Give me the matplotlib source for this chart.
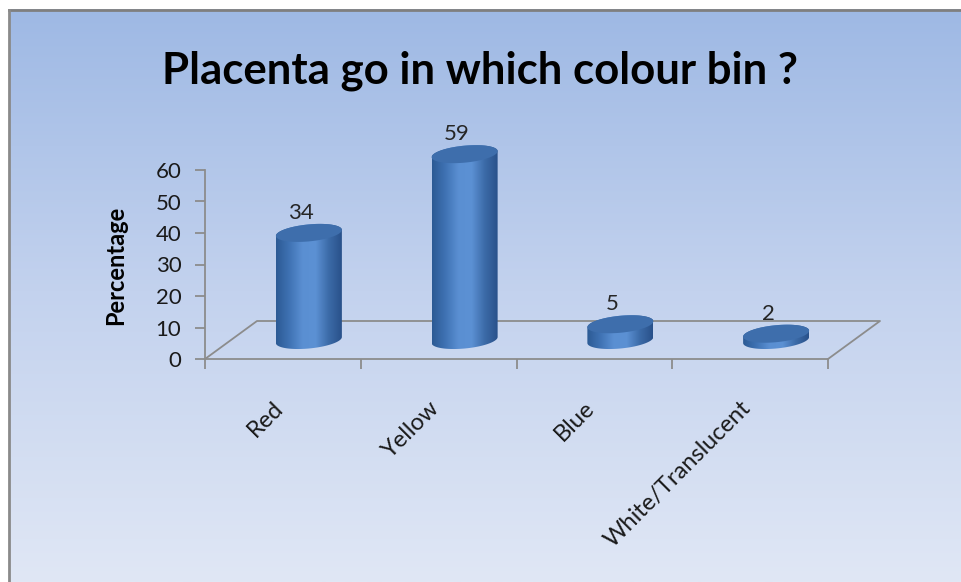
import numpy as np
import matplotlib
matplotlib.use('Agg')
import matplotlib.pyplot as plt
from matplotlib.path import Path
from matplotlib.patches import PathPatch, Rectangle
from matplotlib.colors import LinearSegmentedColormap

# ---- data ----
categories = ['Red', 'Yellow', 'Blue', 'White/Translucent']
values = [34, 59, 5, 2]
y_ticks = [0, 10, 20, 30, 40, 50, 60]
title_text = 'Placenta go in which colour bin ?'
ylabel_text = 'Percentage'

plt.rcParams['font.family'] = ['Lato', 'DejaVu Sans']

W, H = 961, 582
fig = plt.figure(figsize=(W / 100, H / 100), dpi=100)

# ---- background ----
bg = fig.add_axes([0, 0, 1, 1])
bg.set_axis_off()
grad = np.linspace(0, 1, 256)[:, None]
cmap_bg = LinearSegmentedColormap.from_list('bg', ['#9db8e4', '#c3d2ee', '#e0e7f5'])
bg.imshow(grad, aspect='auto', cmap=cmap_bg, extent=[0, 1, 0, 1], origin='upper')
bg.set_xlim(0, 1)
bg.set_ylim(0, 1)
bg.add_patch(Rectangle((0, 1 - 8 / H), 1, 8 / H, color='white', zorder=3))
bg.add_patch(Rectangle((0, 0), 8 / W, 1, color='white', zorder=3))
bg.plot([9 / W, 1], [1 - 9.5 / H, 1 - 9.5 / H], color='#7f7f7f', lw=2, zorder=4)
bg.plot([9 / W, 9 / W], [0, 1 - 9.5 / H], color='#8a8a8a', lw=2, zorder=4)

# ---- main axes ----
px_x, px_y = 155.75, 3.15
x0px, y0px = 205, 359
xmax, ymax = 4.4, 75
ax = fig.add_axes([x0px / W, 1 - y0px / H, xmax * px_x / W, ymax * px_y / H])
ax.patch.set_alpha(0)
ax.set_autoscale_on(False)
ax.set_xlim(0, xmax)
ax.set_ylim(0, ymax)
grid_col = '#8c8c8c'
for s in ['top', 'right']:
    ax.spines[s].set_visible(False)
ax.spines['left'].set_bounds(0, 60)
ax.spines['bottom'].set_bounds(0, 4)
for s in ['left', 'bottom']:
    ax.spines[s].set_color(grid_col)
    ax.spines[s].set_linewidth(1.3)

n = len(categories)
ax.set_yticks(y_ticks)
ax.set_yticklabels([str(t) for t in y_ticks], fontsize=16, color='#1a1a1a')
ax.tick_params(axis='y', length=7, width=1.3, color=grid_col, pad=10)
ax.set_xticks(np.arange(n + 1))
ax.set_xticklabels([''] * (n + 1))
ax.tick_params(axis='x', length=7, width=1.3, color=grid_col)

# floor (3D depth)
dx, dy = 52 / px_x, 38 / px_y
ax.plot([0, dx, n + dx, n], [0, dy, dy, 0], color=grid_col, lw=1.3, clip_on=False)

# cylinders
w = 33 / px_x
b = 8.5 / px_y
s = 3.0 / px_y
cyl_cmap = LinearSegmentedColormap.from_list(
    'cyl', ['#2c5a94', '#3f72b3', '#5a8fd2', '#5c91d4', '#3c6ba8', '#29518a'])
t_lo = np.linspace(np.pi, 2 * np.pi, 60)
t_hi = np.linspace(0, np.pi, 60)
t_all = np.linspace(0, 2 * np.pi, 120)
for i, v in enumerate(values):
    cx = i + 0.5 + dx / 2
    yb = dy / 2
    yt = yb + v
    bx = cx + w * np.cos(t_lo)
    by = yb + b * np.sin(t_lo) + s * np.cos(t_lo)
    tx = cx + w * np.cos(t_hi)
    ty = yt + b * np.sin(t_hi) + s * np.cos(t_hi)
    verts = np.vstack([np.column_stack([bx, by]), np.column_stack([tx, ty])])
    body = PathPatch(Path(np.vstack([verts, verts[:1]]), closed=True),
                     fc='none', ec='none', transform=ax.transData)
    ax.add_patch(body)
    im = ax.imshow(np.linspace(0, 1, 256)[None, :], cmap=cyl_cmap, aspect='auto',
                   extent=[cx - w, cx + w, yb - b - s - 1, yt + b + s + 1],
                   interpolation='bilinear', zorder=3)
    im.set_clip_path(body)
    ex = cx + w * np.cos(t_all)
    ey = yt + b * np.sin(t_all) + s * np.cos(t_all)
    ax.fill(ex, ey, color='#3e6eac', zorder=4, lw=0)
    ax.text(cx - 0.05, yt + b + s + 0.8, str(v), ha='center', va='baseline',
            fontsize=16, color='#262626', zorder=5)

# category labels
for i, c in enumerate(categories):
    ax.text(i + 0.5 - 3 / px_x, -46 / px_y, c, rotation=45, rotation_mode='anchor',
            ha='right', va='center', fontsize=17, color='#1a1a1a')

ax.set_xlim(0, xmax)
ax.set_ylim(0, ymax)

fig.text(116 / W, 1 - 265 / H, ylabel_text, rotation=90, ha='center', va='center',
         fontsize=17, fontweight='bold', color='#000000')
fig.text(480 / W, 1 - 71 / H, title_text, ha='center', va='center',
         fontsize=31.5, fontweight='bold', color='#000000')

fig.savefig('out.png', dpi=100)
